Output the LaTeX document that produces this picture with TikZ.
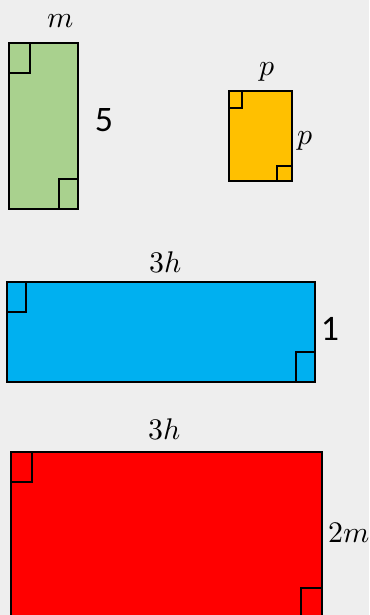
\documentclass[tikz,border=0pt]{standalone}
\usepackage{fontspec}
\usepackage{unicode-math}
\newfontfamily\numfont{Carlito}
\definecolor{bggray}{HTML}{EEEEEE}
\definecolor{leafgreen}{HTML}{A9D18E}
\definecolor{sunyellow}{HTML}{FFC000}
\definecolor{skyblue}{HTML}{00B0F0}
\definecolor{brightred}{HTML}{FF0000}
\tikzset{
  box/.style={draw=black,line width=2.2bp},
  corner/.style={draw=black,line width=2.2bp},
  mathlbl/.style={font=\fontsize{30}{34}\selectfont},
  numlbl/.style={font=\numfont\fontsize{36}{40}\selectfont}
}

\begin{document}
\begin{tikzpicture}[x=1bp,y=-1bp]
            \fill[bggray] (0,0) rectangle (369,615);
            \useasboundingbox (0,0) rectangle (369,615);
            \clip (0,0) rectangle (369,615);
            % green
            \filldraw[box,fill=leafgreen] (9,43) rectangle (78,209);
            \draw[corner] (9,43) rectangle (30,73);
            \draw[corner] (59,179) rectangle (78,209);
            \node[mathlbl] (greentop) at (61,21) {$m$};
            \node[numlbl] (greenside) at (104,120) {5};
            % yellow
            \filldraw[box,fill=sunyellow] (229,91) rectangle (292,181);
            \draw[corner] (229,91) rectangle (242,108);
            \draw[corner] (277,166) rectangle (292,181);
            \node[mathlbl] (yellowtop) at (267,72) {$p$};
            \node[mathlbl] (yellowside) at (305,141) {$p$};
            % blue
            \filldraw[box,fill=skyblue] (7,282) rectangle (315,382);
            \draw[corner] (7,282) rectangle (26,312);
            \draw[corner] (296,352) rectangle (315,382);
            \node[mathlbl] (bluetop) at (166,262) {$3h$};
            \node[numlbl] (blueside) at (330,329) {1};
            % red
            \filldraw[box,fill=brightred] (11,452) rectangle (322,630);
            \draw[corner] (11,452) rectangle (32,482);
            \draw[corner] (301,588) rectangle (322,630);
            \node[mathlbl] (redtop) at (165,429) {$3h$};
            \node[mathlbl] (redside) at (349,533) {$2m$};
        \end{tikzpicture}
\end{document}
